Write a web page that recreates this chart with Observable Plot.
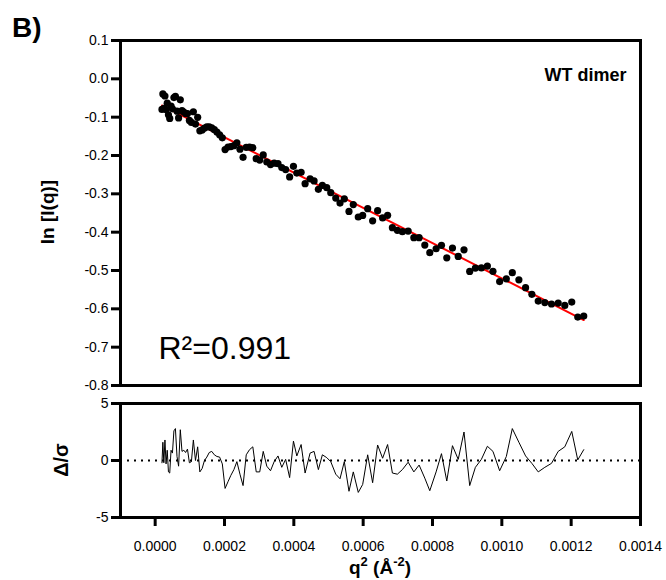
<!DOCTYPE html>
<html><head><meta charset="utf-8">
<script src="https://cdn.jsdelivr.net/npm/d3@7"></script>
<script src="https://cdn.jsdelivr.net/npm/@observablehq/plot@0.6"></script>
<style>
body{margin:0;background:#fff;}
#wrap{position:relative;width:666px;height:580px;overflow:hidden;background:#fff;}
#wrap svg{position:absolute;left:0;}
</style></head><body><div id="wrap"></div>
<script>
// q^2 (Å^-2)
const q2 = [0.0000196,0.0000222,0.0000250,0.0000282,0.0000314,0.0000348,0.0000383,0.0000420,0.0000458,0.0000498,
0.0000541,0.0000584,0.0000630,0.0000676,0.0000725,0.0000774,0.0000826,0.0000878,0.0000932,0.0000987,
0.0001045,0.0001102,0.0001163,0.0001226,0.0001289,0.0001355,0.0001422,0.0001491,0.0001560,0.0001632,
0.0001707,0.0001781,0.0001859,0.0001937,0.0002017,0.0002101,0.0002184,0.0002271,0.0002357,0.0002446,
0.0002535,0.0002627,0.0002722,0.0002817,0.0002915,0.0003016,0.0003117,0.0003220,0.0003327,0.0003433,
0.0003543,0.0003652,0.0003764,0.0003879,0.0003989,0.0004086,0.0004210,0.0004325,0.0004469,0.0004584,
0.0004708,0.0004823,0.0004950,0.0005065,0.0005209,0.0005332,0.0005456,0.0005591,0.0005715,0.0005859,
0.0005986,0.0006130,0.0006273,0.0006417,0.0006561,0.0006705,0.0006843,0.0006987,0.0007131,0.0007298,
0.0007462,0.0007614,0.0007778,0.0007922,0.0008104,0.0008259,0.0008412,0.0008576,0.0008742,0.0008909,
0.0009073,0.0009237,0.0009410,0.0009583,0.0009744,0.0009937,0.0010130,0.0010302,0.0010492,0.0010685,
0.0010866,0.0011050,0.0011240,0.0011433,0.0011626,0.0011816,0.0012017,0.0012190,0.0012363];
// ln[I(q)]
const lnI = [-0.0799,-0.0394,-0.0772,-0.0448,-0.0801,-0.0635,-0.0938,-0.1033,-0.0711,-0.0782,
-0.0489,-0.0457,-0.0843,-0.1020,-0.0548,-0.0831,-0.0868,-0.0905,-0.0904,-0.1085,
-0.1137,-0.0859,-0.1179,-0.1005,-0.1355,-0.1332,-0.1285,-0.1252,-0.1254,-0.1278,
-0.1325,-0.1387,-0.1460,-0.1538,-0.1846,-0.1780,-0.1767,-0.1743,-0.1668,-0.1834,
-0.2048,-0.1788,-0.1779,-0.1797,-0.2084,-0.2120,-0.1984,-0.2170,-0.2237,-0.2200,
-0.2214,-0.2316,-0.2367,-0.2559,-0.2283,-0.2459,-0.2438,-0.2736,-0.2609,-0.2662,
-0.2883,-0.2780,-0.2840,-0.2969,-0.3111,-0.3241,-0.3131,-0.3459,-0.3281,-0.3605,
-0.3562,-0.3388,-0.3705,-0.3440,-0.3628,-0.3561,-0.3883,-0.3952,-0.3987,-0.3972,
-0.4144,-0.4144,-0.4337,-0.4536,-0.4432,-0.4344,-0.4670,-0.4414,-0.4632,-0.4460,
-0.5024,-0.4937,-0.4934,-0.4885,-0.5022,-0.5288,-0.5217,-0.5057,-0.5243,-0.5447,
-0.5621,-0.5798,-0.5838,-0.5874,-0.5849,-0.5910,-0.5823,-0.6215,-0.6188];
// residuals Δ/σ
const resid = [-0.2,1.6,-0.2,1.8,-0.3,0.9,-1.0,-1.1,0.9,0.65,
2.6,2.8,0.35,-0.5,2.7,0.8,0.9,0.7,1.0,-0.2,
-0.1,1.8,0,1.2,-1.0,-0.7,0,0.3,0.7,0.8,
0.5,0.35,0.3,-0.3,-2.45,-1.86,-1.3,-0.8,-0.1,-1.2,
-2.2,0.5,0.95,1.2,-1.0,-1.0,0.8,-0.5,-0.9,-0.1,
0.4,-0.6,0.1,-1.5,1.7,0.4,1.4,-1.1,0.65,0.8,
-0.8,0.5,0.25,-0.1,-1.2,-1.6,-0.1,-2.7,-1.0,-2.8,
-2.1,0.5,-1.95,1.36,0.2,1.4,-1.1,-1.2,-0.8,-0.15,
-1.0,-0.4,-1.55,-2.65,-1.0,0.6,-1.8,1.3,0.1,2.5,
-2.2,-0.6,0.1,1.25,0.8,-0.9,0.35,2.8,1.6,0.4,
-0.25,-1.0,-0.6,-0.25,0.8,1.2,2.55,0.05,0.95];
// linear (Guinier) fit end points
const fitQ2 = [0.0000196, 0.0012363];
const fitLn = [-0.0695, -0.6292];
// ticks
const xTicks = [0, 0.0002, 0.0004, 0.0006, 0.0008, 0.0010, 0.0012, 0.0014];
const yTicksTop = [0.1, 0.0, -0.1, -0.2, -0.3, -0.4, -0.5, -0.6, -0.7, -0.8];
const yTicksRes = [5, 0, -5];
const panelLabel = "B)";
const seriesLabel = "WT dimer";
const r2Label = "R²=0.991";

const FONT = '"Liberation Sans", Arial, sans-serif';
const pts = q2.map((x, i) => ({x, y: lnI[i], r: resid[i]}));
const fit = fitQ2.map((x, i) => ({x, y: fitLn[i]}));
const wrap = document.getElementById("wrap");

const topChart = Plot.plot({
  width: 666, height: 395,
  marginLeft: 120, marginRight: 26, marginTop: 40, marginBottom: 10,
  style: {fontFamily: FONT, fontSize: "14px", color: "#000", background: "transparent"},
  x: {domain: [-0.0001, 0.0014], axis: null},
  y: {domain: [-0.8, 0.1], axis: null},
  marks: [
    Plot.line(fit, {x: "x", y: "y", stroke: "#ff0000", strokeWidth: 2}),
    Plot.dot(pts, {x: "x", y: "y", r: 3.6, fill: "#000", stroke: "none"}),
    Plot.axisY({ticks: yTicksTop, tickSize: 9, tickPadding: 3, strokeWidth: 3, label: null,
      tickFormat: d => d.toFixed(1), fontSize: 14}),
    Plot.frame({stroke: "#000", strokeWidth: 3}),
    Plot.text([seriesLabel], {frameAnchor: "top-right", dx: -14, dy: 35, lineAnchor: "middle",
      textAnchor: "end", fontWeight: "bold", fontSize: 18}),
    Plot.text([r2Label], {frameAnchor: "bottom-left", dx: 38, dy: -37, lineAnchor: "middle",
      textAnchor: "start", fontSize: 32})
  ]
});
topChart.style.top = "0px";
wrap.appendChild(topChart);

const botChart = Plot.plot({
  width: 666, height: 190,
  marginLeft: 120, marginRight: 26, marginTop: 13, marginBottom: 63,
  style: {fontFamily: FONT, fontSize: "14px", color: "#000", background: "transparent"},
  x: {domain: [-0.0001, 0.0014], axis: null},
  y: {domain: [-5, 5], axis: null},
  marks: [
    Plot.ruleY([0], {stroke: "#000", strokeWidth: 2, strokeDasharray: "2,5"}),
    Plot.line(pts, {x: "x", y: "r", stroke: "#000", strokeWidth: 1}),
    Plot.axisY({ticks: yTicksRes, tickSize: 9, tickPadding: 3, strokeWidth: 3, label: null,
      tickFormat: d => String(d), fontSize: 14}),
    Plot.axisX({ticks: xTicks, tickSize: 9, tickPadding: 15, strokeWidth: 3, label: null,
      tickFormat: d => d.toFixed(4), fontSize: 14}),
    Plot.frame({stroke: "#000", strokeWidth: 3})
  ]
});
botChart.style.top = "390px";
wrap.appendChild(botChart);

// overlay with titles
const ov = d3.create("svg").attr("width", 666).attr("height", 580)
  .style("top", "0px").style("font-family", FONT).style("pointer-events", "none");
ov.append("text").attr("x", 12).attr("y", 37).attr("font-size", 28).attr("font-weight", "bold").text(panelLabel);
ov.append("text").attr("transform", "translate(54,212) rotate(-90)").attr("text-anchor", "middle")
  .attr("font-size", 19).attr("font-weight", "bold").text("ln [I(q)]");
ov.append("text").attr("transform", "translate(68,460) rotate(-90)").attr("text-anchor", "middle")
  .attr("font-size", 20).attr("font-weight", "bold").text("Δ/σ");
const xt = ov.append("text").attr("x", 380).attr("y", 574).attr("text-anchor", "middle")
  .attr("font-size", 19).attr("font-weight", "bold");
xt.append("tspan").text("q");
xt.append("tspan").attr("dy", -8).attr("font-size", 13).text("2");
xt.append("tspan").attr("dy", 8).text(" (Å");
xt.append("tspan").attr("dy", -8).attr("font-size", 13).text("-2");
xt.append("tspan").attr("dy", 8).text(")");
wrap.appendChild(ov.node());
</script></body></html>
